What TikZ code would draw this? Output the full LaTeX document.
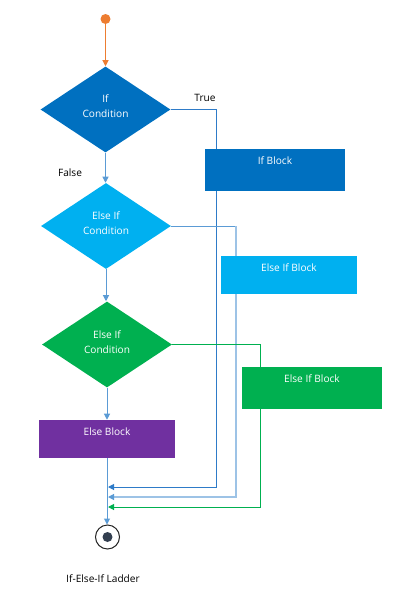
\documentclass[tikz,border=0pt]{standalone}
\usepackage{fontspec}
\setmainfont{Open Sans}
\usetikzlibrary{shapes.geometric,arrows.meta}
\definecolor{orng}{HTML}{ED7D31}
\definecolor{dblue}{HTML}{0070C0}
\definecolor{cyanb}{HTML}{00B0F0}
\definecolor{grn}{HTML}{00B050}
\definecolor{purp}{HTML}{7030A0}
\definecolor{midblue}{HTML}{5B9BD5}
\definecolor{lineblue}{HTML}{2E7BC8}
\definecolor{ltblue}{HTML}{9DC3E6}
\definecolor{endfill}{HTML}{333F50}
\tikzset{
  every node/.style={font=\fontsize{7.6}{11}\selectfont},
  dia/.style={diamond, minimum width=130*0.75pt, minimum height=86*0.75pt, inner sep=0pt, text=white, align=center},
  diatxt/.style={text=white, align=center, inner sep=0pt},
  blk/.style={rectangle, inner sep=0pt},
  blktxt/.style={text=white, anchor=north, inner sep=0pt},
  conn/.style={line width=0.75pt, -{Triangle[length=4.5pt,width=4.5pt]}},
  lbl/.style={text=black, inner sep=0pt}
}
\begin{document}
\begin{tikzpicture}[x=0.75pt,y=-0.75pt]
\useasboundingbox (0,0) rectangle (405,604);
% start
\node[circle, fill=orng, minimum size=10*0.75pt, inner sep=0pt] (start) at (105.5,19) {};
% diamonds
\node[dia, fill=dblue] (d1) at (105.5,109.5) {};
\node[diatxt] (d1t) at (105.5,106.5) {If\\Condition};
\node[dia, fill=cyanb] (d2) at (106,226) {};
\node[diatxt] (d2t) at (106,223.5) {Else If\\Condition};
\node[dia, fill=grn] (d3) at (107,344.5) {};
\node[diatxt] (d3t) at (107,342) {Else If\\Condition};
% coordinates
\coordinate (t1) at (216,487);
\coordinate (j1) at (108,487);
\coordinate (t2) at (236,497);
\coordinate (j2) at (108,497);
\coordinate (t3) at (260,507);
\coordinate (j3) at (108,507);
% return lines (behind blocks)
\draw[line width=0.75pt, lineblue, -{Triangle[length=4.5pt,width=4.5pt]}] (d1.east) -| (t1) -- (j1);
\draw[line width=0.75pt, midblue] (d2.east) -- (d2.east -| t2);
\draw[line width=0.9pt, ltblue, -{Triangle[length=4.5pt,width=4.5pt,color=midblue]}] (d2.east -| t2) -- (t2) -- (j2);
\draw[line width=0.75pt, grn, -{Triangle[length=4.5pt,width=4.5pt]}] (d3.east) -| (t3) -- (j3);
% blocks
\node[blk, fill=dblue, minimum width=140*0.75pt, minimum height=42*0.75pt] (b1) at (275,170) {};
\node[blktxt] (b1t) at ([yshift=-6pt]b1.north) {If Block};
\node[blk, fill=cyanb, minimum width=136*0.75pt, minimum height=38*0.75pt] (b2) at (289,275) {};
\node[blktxt] (b2t) at ([yshift=-6pt]b2.north) {Else If Block};
\node[blk, fill=grn, minimum width=140*0.75pt, minimum height=42*0.75pt] (b3) at (312,388) {};
\node[blktxt] (b3t) at ([yshift=-6pt]b3.north) {Else If Block};
\node[blk, fill=purp, minimum width=136*0.75pt, minimum height=38*0.75pt] (b4) at (107,439) {};
\node[blktxt] (b4t) at ([yshift=-6pt]b4.north) {Else Block};
% end
\node[circle, draw=black!85, line width=0.75pt, minimum size=24*0.75pt, inner sep=0pt] (end) at (107.5,537) {};
\node[circle, fill=endfill, minimum size=10*0.75pt, inner sep=0pt] (endin) at (end.center) {};
% main flow
\draw[conn, orng] (start) -- (d1.north);
\draw[conn, midblue] (d1.south) -- (d1.south |- d2.north);
\draw[conn, midblue] (d2.south) -- (d2.south |- d3.north);
\draw[conn, midblue] (d3.south) -- (d3.south |- b4.north);
\draw[conn, midblue] (b4.south) -- (b4.south |- end.north);
% labels
\node[lbl] (true) at (205,98) {True};
\node[lbl] (false) at (70,173) {False};
\node[lbl] (cap) at (103,579) {If-Else-If Ladder};
\end{tikzpicture}
\end{document}
